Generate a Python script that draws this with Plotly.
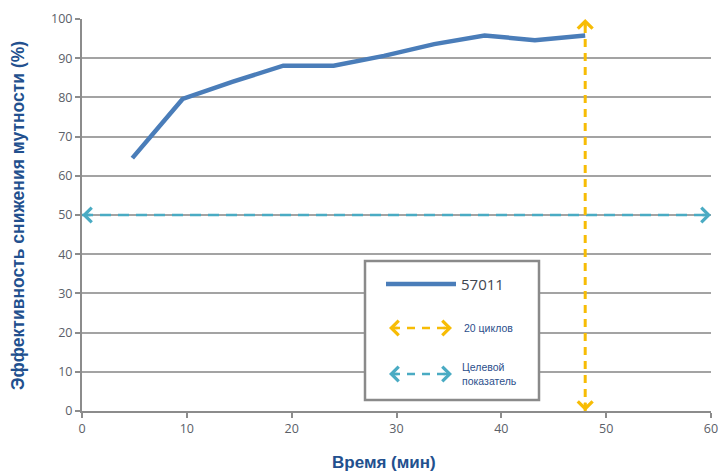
import plotly.graph_objects as go

# ---- data ----
time_min = [4.8, 9.6, 14.4, 19.2, 24.0, 28.8, 33.6, 38.4, 43.2, 48.0]
efficiency = [64.5, 79.6, 84.0, 88.1, 88.1, 90.6, 93.6, 95.8, 94.6, 95.8]
series_name = "57011"
cycles_label = "20 циклов"
cycles_time = 48.0
target_label = "Целевой<br>показатель"
target_value = 50.0
x_range = [0, 60]
y_range = [0, 100]
x_ticks = [0, 10, 20, 30, 40, 50, 60]
y_ticks = [0, 10, 20, 30, 40, 50, 60, 70, 80, 90, 100]
x_title = "Время (мин)"
y_title = "Эффективность снижения мутности (%)"

BLUE = "#4A7DB9"
YELLOW = "#F7BC05"
TEAL = "#4AABC3"
TITLE_BLUE = "#22508E"
GRID = "#A3A3A3"
AXIS = "#8C8C8C"
TICKTXT = "#5B6068"

fig = go.Figure()

fig.add_trace(go.Scatter(x=time_min, y=efficiency, mode="lines",
                         line=dict(color=BLUE, width=4.5), name=series_name,
                         showlegend=False))
fig.add_trace(go.Scatter(x=x_range, y=[target_value, target_value], mode="lines",
                         line=dict(color=TEAL, width=2.5, dash="11px,7px"),
                         name="Целевой показатель", showlegend=False))
fig.add_trace(go.Scatter(x=[cycles_time, cycles_time], y=y_range, mode="lines",
                         line=dict(color=YELLOW, width=3, dash="8px,6px"),
                         name=cycles_label, showlegend=False))

def head(x, y, ax, ay, color, xref="x", yref="y"):
    fig.add_annotation(x=x, y=y, xref=xref, yref=yref, ax=ax, ay=ay,
                       text="", showarrow=True, arrowhead=4, arrowsize=1.1,
                       arrowwidth=2.6, arrowcolor=color, standoff=0)

head(cycles_time, y_range[1], 0, 10, YELLOW)
head(cycles_time, y_range[0], 0, -10, YELLOW)
head(x_range[0], target_value, 10, 0, TEAL)
head(x_range[1], target_value, -10, 0, TEAL)

# ---- custom legend (paper coords; screen px of the 719x473 view) ----
L, R, T, B = 82, 711, 19, 411
def px(xp):
    return (xp - L) / (R - L)
def py(yp):
    return (B - yp) / (B - T)

fig.add_shape(type="rect", xref="paper", yref="paper",
              x0=px(365), x1=px(539), y0=py(400), y1=py(261),
              line=dict(color="#8A8A8A", width=2.5), fillcolor="white", layer="above")
fig.add_shape(type="line", xref="paper", yref="paper",
              x0=px(386), x1=px(456), y0=py(284), y1=py(284),
              line=dict(color=BLUE, width=4.5), layer="above")
fig.add_annotation(x=px(459), y=py(284), xref="paper", yref="paper", text=series_name,
                   showarrow=False, xanchor="left", yanchor="middle",
                   font=dict(family="Open Sans", size=15, color="#3F4650"))
for yy, col, lab, xt in [(328, YELLOW, cycles_label, 462),
                         (374, TEAL, target_label, 460)]:
    fig.add_shape(type="line", xref="paper", yref="paper",
                  x0=px(392), x1=px(448), y0=py(yy), y1=py(yy),
                  line=dict(color=col, width=2.5, dash="8px,7px"), layer="above")
    fig.add_annotation(x=px(389), y=py(yy), xref="paper", yref="paper", ax=10, ay=0,
                       text="", showarrow=True, arrowhead=4, arrowsize=1.1,
                       arrowwidth=2.6, arrowcolor=col, standoff=0)
    fig.add_annotation(x=px(452), y=py(yy), xref="paper", yref="paper", ax=-10, ay=0,
                       text="", showarrow=True, arrowhead=4, arrowsize=1.1,
                       arrowwidth=2.6, arrowcolor=col, standoff=0)
    fig.add_annotation(x=px(xt), y=py(yy), xref="paper", yref="paper", text=lab,
                       showarrow=False, xanchor="left", yanchor="middle", align="left",
                       font=dict(family="Liberation Sans", size=10.5, color="#2C4F8C"))

# axis titles
fig.add_annotation(x=px(384), y=py(462), xref="paper", yref="paper", text=x_title,
                   showarrow=False, xanchor="center", yanchor="middle",
                   font=dict(family="Liberation Sans", size=17, color=TITLE_BLUE, weight="bold"))
fig.add_annotation(x=px(18), y=py(216), xref="paper", yref="paper", text=y_title,
                   showarrow=False, xanchor="center", yanchor="middle", textangle=-90,
                   font=dict(family="Liberation Sans", size=17.5, color=TITLE_BLUE, weight="bold"))

fig.update_xaxes(range=x_range, tickvals=x_ticks, showgrid=False, zeroline=False,
                 showline=True, linecolor=AXIS, linewidth=2, automargin=False,
                 ticks="outside", ticklen=5, tickwidth=2, tickcolor=AXIS,
                 ticklabeloverflow="allow",
                 tickfont=dict(family="Open Sans", size=12.5, color=TICKTXT))
fig.update_yaxes(range=y_range, tickvals=y_ticks, showgrid=True, gridcolor=GRID,
                 gridwidth=2, zeroline=False, automargin=False,
                 showline=True, linecolor=AXIS, linewidth=2,
                 ticks="outside", ticklen=5, tickwidth=2, tickcolor=AXIS,
                 tickfont=dict(family="Open Sans", size=12.5, color=TICKTXT))

fig.update_layout(width=719, height=473,
                  margin=dict(l=L, r=719 - R, t=T, b=473 - B),
                  plot_bgcolor="white", paper_bgcolor="white", showlegend=False)

# remove the default page margin so the figure fills the 719x473 window exactly
fig.write_html("out.html", config={"displayModeBar": False},
               post_script="document.body.style.margin='0';document.body.style.overflow='hidden';")
